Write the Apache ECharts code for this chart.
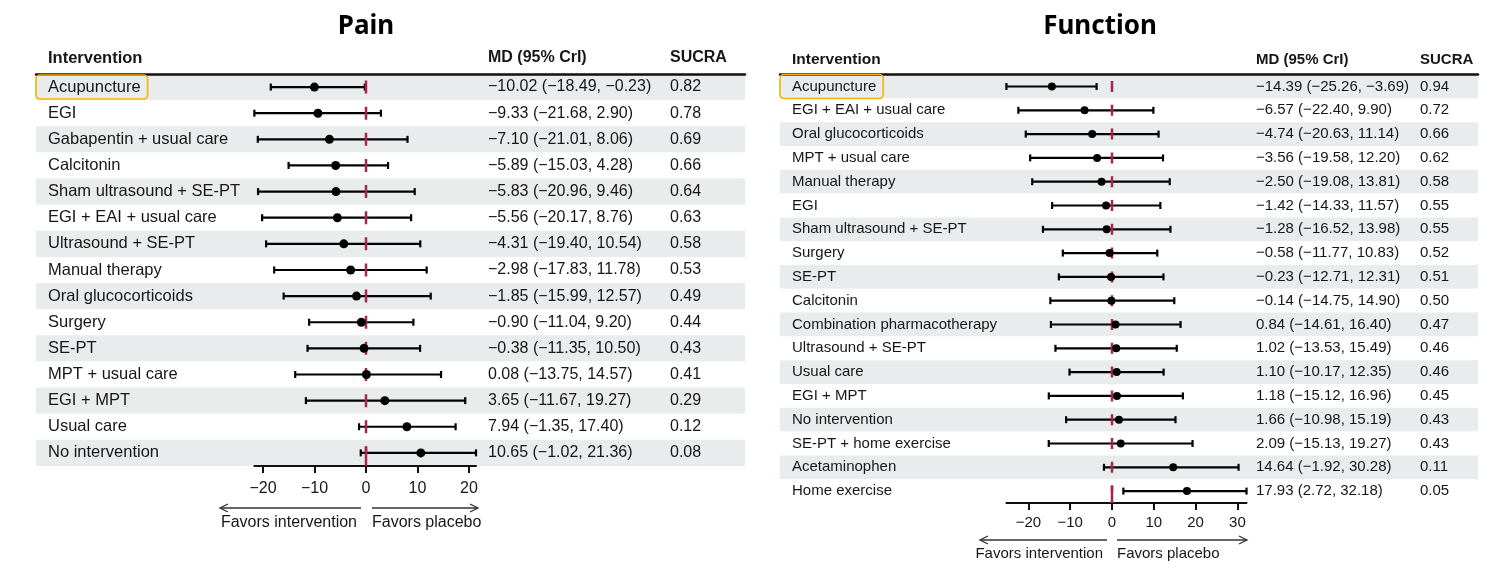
<!DOCTYPE html>
<html>
<head>
<meta charset="utf-8">
<script src="https://cdn.jsdelivr.net/npm/echarts@6/dist/echarts.min.js"></script>
<style>
  html, body { margin: 0; padding: 0; background: #fff; }
  #chart { width: 1492px; height: 585px; }
</style>
</head>
<body>
<div id="chart"></div>
<script>
// ---- data: pain ----
var PAIN_NAMES = ["Acupuncture", "EGI", "Gabapentin + usual care", "Calcitonin",
  "Sham ultrasound + SE-PT", "EGI + EAI + usual care", "Ultrasound + SE-PT",
  "Manual therapy", "Oral glucocorticoids", "Surgery", "SE-PT", "MPT + usual care",
  "EGI + MPT", "Usual care", "No intervention"];
var PAIN_MD = [-10.02, -9.33, -7.10, -5.89, -5.83, -5.56, -4.31, -2.98, -1.85, -0.90, -0.38, 0.08, 3.65, 7.94, 10.65];
var PAIN_LOW = [-18.49, -21.68, -21.01, -15.03, -20.96, -20.17, -19.40, -17.83, -15.99, -11.04, -11.35, -13.75, -11.67, -1.35, -1.02];
var PAIN_HIGH = [-0.23, 2.90, 8.06, 4.28, 9.46, 8.76, 10.54, 11.78, 12.57, 9.20, 10.50, 14.57, 19.27, 17.40, 21.36];
var PAIN_SUCRA = ["0.82", "0.78", "0.69", "0.66", "0.64", "0.63", "0.58", "0.53", "0.49", "0.44", "0.43", "0.41", "0.29", "0.12", "0.08"];
var PAIN_TICKS = [-20, -10, 0, 10, 20];

// ---- data: function ----
var FUNC_NAMES = ["Acupuncture", "EGI + EAI + usual care", "Oral glucocorticoids",
  "MPT + usual care", "Manual therapy", "EGI", "Sham ultrasound + SE-PT", "Surgery",
  "SE-PT", "Calcitonin", "Combination pharmacotherapy", "Ultrasound + SE-PT",
  "Usual care", "EGI + MPT", "No intervention", "SE-PT + home exercise",
  "Acetaminophen", "Home exercise"];
var FUNC_MD = [-14.39, -6.57, -4.74, -3.56, -2.50, -1.42, -1.28, -0.58, -0.23, -0.14, 0.84, 1.02, 1.10, 1.18, 1.66, 2.09, 14.64, 17.93];
var FUNC_LOW = [-25.26, -22.40, -20.63, -19.58, -19.08, -14.33, -16.52, -11.77, -12.71, -14.75, -14.61, -13.53, -10.17, -15.12, -10.98, -15.13, -1.92, 2.72];
var FUNC_HIGH = [-3.69, 9.90, 11.14, 12.20, 13.81, 11.57, 13.98, 10.83, 12.31, 14.90, 16.40, 15.49, 12.35, 16.96, 15.19, 19.27, 30.28, 32.18];
var FUNC_SUCRA = ["0.94", "0.72", "0.66", "0.62", "0.58", "0.55", "0.55", "0.52", "0.51", "0.50", "0.47", "0.46", "0.46", "0.45", "0.43", "0.43", "0.11", "0.05"];
var FUNC_TICKS = [-20, -10, 0, 10, 20, 30];

var HIGHLIGHT = "Acupuncture";

var FONT = "'Liberation Sans', Arial, sans-serif";
var TEXT = "#161616";
var SHADE = "#e9ecec";
var ZERO_COLOR = "#a8244e";
var BOX_COLOR = "#f4b400";

var minus = function(s){
	return String(s).replace(/-/g, "\u2212");
};
var fmt = function(v){
	return minus(v.toFixed(2));
};
var mdLabels = function(md, lo, hi){
	return md.map(function(m, i){
		return fmt(m) + " (" + fmt(lo[i]) + ", " + fmt(hi[i]) + ")";
	});
};

// layout for each panel
var panels = [
	{
		title: "Pain", titleX: 366,
		names: PAIN_NAMES, md: PAIN_MD, lo: PAIN_LOW, hi: PAIN_HIGH, sucra: PAIN_SUCRA, ticks: PAIN_TICKS,
		tableLeft: 36, tableRight: 745, top: 74, rowH: 26.13,
		zeroX: 366, unitPx: 5.15,
		mdX: 488, sucraX: 670, headY: 58,
		font: 16, nameFont: 16.5, dot: 9, cap: 7, dash: 13,
		tickMargin: 15,
		arrowY: 508, leftArrow: [361, 220], rightArrow: [372, 478], favY: 523
	},
	{
		title: "Function", titleX: 1100,
		names: FUNC_NAMES, md: FUNC_MD, lo: FUNC_LOW, hi: FUNC_HIGH, sucra: FUNC_SUCRA, ticks: FUNC_TICKS,
		tableLeft: 780, tableRight: 1478, top: 74.6, rowH: 23.8,
		zeroX: 1112, unitPx: 4.18,
		mdX: 1256, sucraX: 1420, headY: 60,
		font: 15, nameFont: 15, dot: 8, cap: 7, dash: 11,
		tickMargin: 12,
		arrowY: 540, leftArrow: [1107, 980], rightArrow: [1117, 1247], favY: 554
	}
];

var option = {
	animation: false,
	backgroundColor: "#fff",
	grid: [], xAxis: [], yAxis: [], series: [], graphic: []
};

var hidden = {show: false};

var addText = function(text, x, y, size, bold, align){
	option.graphic.push({
		type: "text", x: x, y: y, silent: true,
		style: {
			text: text, fill: TEXT, font: (bold ? "bold " : "") + size + "px " + FONT,
			align: align || "left", verticalAlign: "middle"
		}
	});
};

var addArrow = function(x1, x2, y){
	var dir = x1 > x2 ? 1 : -1;
	option.graphic.push({
		type: "group", silent: true,
		children: [
			{type: "line", shape: {x1: x1, y1: y, x2: x2, y2: y}, style: {stroke: "#333", lineWidth: 1.3}},
			{type: "polyline", shape: {points: [[x2 + dir * 8, y - 4], [x2, y], [x2 + dir * 8, y + 4]]},
				style: {stroke: "#333", lineWidth: 1.3, fill: null}}
		]
	});
};

panels.forEach(function(p){
	var n = p.names.length;
	var height = n * p.rowH;
	var xmin = Math.min.apply(null, p.lo);
	var xmax = Math.max.apply(null, p.hi);
	var gT = option.grid.length;
	var gF = gT + 1;

	option.grid.push({left: p.tableLeft, top: p.top, width: p.tableRight - p.tableLeft, height: height, outerBoundsMode: "none"});
	option.grid.push({left: p.zeroX + xmin * p.unitPx, top: p.top, width: (xmax - xmin) * p.unitPx, height: height, outerBoundsMode: "none"});

	// table grid: header line on top, shaded rows, text columns as axis labels
	option.xAxis.push({
		gridIndex: gT, type: "value", min: 0, max: 1, position: "top",
		axisLine: {show: true, lineStyle: {color: "#111", width: 2.5}},
		axisTick: hidden, axisLabel: hidden, splitLine: hidden
	});
	var labelBase = {
		show: true, inside: true, interval: 0, align: "left",
		color: TEXT, fontFamily: FONT, fontSize: p.font
	};
	option.yAxis.push({
		gridIndex: gT, type: "category", inverse: true, position: "left",
		data: p.names.map(function(nm){
			if (nm === HIGHLIGHT){
				return {value: nm, textStyle: {borderColor: BOX_COLOR, borderWidth: 1.6, borderRadius: 4}};
			}
			return nm;
		}),
		axisLine: hidden, axisTick: hidden, splitLine: hidden,
		splitArea: {show: true, areaStyle: {color: [SHADE, "#ffffff"]}},
		axisLabel: Object.assign({}, labelBase, {margin: 0, fontSize: p.nameFont, padding: [3, 7, 3, 12], lineHeight: 18})
	});
	option.yAxis.push({
		gridIndex: gT, type: "category", inverse: true, position: "right", offset: 0,
		data: mdLabels(p.md, p.lo, p.hi),
		axisLine: hidden, axisTick: hidden, splitLine: hidden,
		axisLabel: Object.assign({}, labelBase, {margin: p.tableRight - p.mdX})
	});
	option.yAxis.push({
		gridIndex: gT, type: "category", inverse: true, position: "right", offset: 0,
		data: p.sucra,
		axisLine: hidden, axisTick: hidden, splitLine: hidden,
		axisLabel: Object.assign({}, labelBase, {margin: p.tableRight - p.sucraX})
	});

	// forest grid
	var fx = option.xAxis.length;
	option.xAxis.push({
		gridIndex: gF, type: "value", min: xmin, max: xmax,
		axisLine: {show: true, lineStyle: {color: "#111", width: 2}},
		axisTick: {show: true, customValues: p.ticks, length: 7, lineStyle: {color: "#111", width: 2}},
		axisLabel: {
			customValues: p.ticks, margin: p.tickMargin,
			color: TEXT, fontFamily: FONT, fontSize: p.font,
			formatter: function(v){ return minus(v); }
		},
		splitLine: hidden
	});
	var fy = option.yAxis.length;
	option.yAxis.push({
		gridIndex: gF, type: "category", inverse: true, data: p.names,
		axisLine: hidden, axisTick: hidden, axisLabel: hidden, splitLine: hidden
	});

	option.series.push({
		type: "custom", xAxisIndex: fx, yAxisIndex: fy, z: 3,
		data: p.lo.map(function(l, i){ return [l, p.hi[i], i]; }),
		encode: {x: [0, 1], y: 2},
		renderItem: function(params, api){
			var a = api.coord([api.value(0), api.value(2)]);
			var b = api.coord([api.value(1), api.value(2)]);
			var h = p.cap / 2;
			var st = {stroke: "#000", lineWidth: 2.2};
			return {
				type: "group",
				children: [
					{type: "line", shape: {x1: a[0], y1: a[1], x2: b[0], y2: b[1]}, style: st},
					{type: "line", shape: {x1: a[0], y1: a[1] - h, x2: a[0], y2: a[1] + h}, style: st},
					{type: "line", shape: {x1: b[0], y1: b[1] - h, x2: b[0], y2: b[1] + h}, style: st}
				]
			};
		}
	});
	// dashed zero line: one dash per row, last one runs down to the axis
	option.series.push({
		type: "custom", xAxisIndex: fx, yAxisIndex: fy, z: 4,
		data: [[0, 0]],
		renderItem: function(params, api){
			var top = api.coord([0, 0]);
			var last = api.coord([0, n - 1]);
			var cs = params.coordSys;
			var st = {stroke: ZERO_COLOR, lineWidth: 2.5};
			return {
				type: "group",
				children: [
					{type: "line",
						shape: {x1: top[0], y1: top[1] - p.dash / 2, x2: top[0], y2: last[1]},
						style: Object.assign({lineDash: [p.dash, p.rowH - p.dash]}, st)},
					{type: "line",
						shape: {x1: top[0], y1: last[1] - p.dash / 2, x2: top[0], y2: cs.y + cs.height},
						style: st}
				]
			};
		}
	});
	option.series.push({
		type: "scatter", xAxisIndex: fx, yAxisIndex: fy, z: 5,
		symbol: "circle", symbolSize: p.dot,
		itemStyle: {color: "#000", opacity: 1},
		data: p.md.map(function(m, i){ return [m, i]; })
	});

	// titles, headers, arrows
	option.graphic.push({
		type: "text", x: p.titleX, y: 27, silent: true,
		style: {text: p.title, fill: "#000", font: "bold 26px 'Noto Sans', sans-serif", align: "center", verticalAlign: "middle"}
	});
	addText("Intervention", p.tableLeft + 12, p.headY, p.font + 0.5, true);
	addText("MD (95% CrI)", p.mdX, p.headY, p.font, true);
	addText("SUCRA", p.sucraX, p.headY, p.font, true);
	addArrow(p.leftArrow[0], p.leftArrow[1], p.arrowY);
	addArrow(p.rightArrow[0], p.rightArrow[1], p.arrowY);
	addText("Favors intervention", p.leftArrow[0] - 4, p.favY, p.font, false, "right");
	addText("Favors placebo", p.rightArrow[0], p.favY, p.font, false, "left");
});

var chart = echarts.init(document.getElementById("chart"), null, {renderer: "canvas"});
chart.setOption(option);
</script>
</body>
</html>
